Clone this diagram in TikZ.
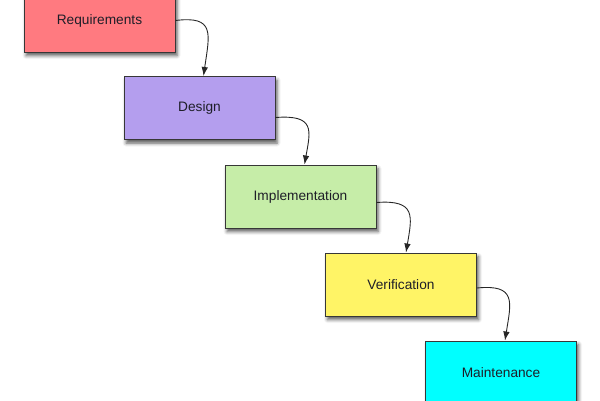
\documentclass[tikz,border=0pt]{standalone}
\usepackage{fontspec}
\setmainfont{Liberation Sans}
\usetikzlibrary{shadows.blur,arrows.meta}
\definecolor{creq}{RGB}{255,122,128}
\definecolor{cdes}{RGB}{180,158,238}
\definecolor{cimp}{RGB}{198,237,168}
\definecolor{cver}{RGB}{255,244,102}
\definecolor{cmai}{RGB}{0,255,255}
\definecolor{cedge}{RGB}{55,55,55}
\definecolor{ctext}{RGB}{30,30,40}
\begin{document}
\begin{tikzpicture}[x=1pt,y=-1pt,
  phase/.style={draw=cedge, line width=1pt, minimum width=151pt, minimum height=63pt,
    inner sep=0pt, text=ctext, font=\fontsize{13.7}{16}\selectfont,
    blur shadow={shadow xshift=2pt, shadow yshift=-3.5pt, shadow blur radius=3.5pt, shadow opacity=65}},
  flow/.style={draw=black!85, line width=0.9pt, -{Latex[length=9pt,width=6.5pt]}}]
\useasboundingbox (0,0) rectangle (600,400);
\node[phase, fill=creq] (req) at (99.5,20.5) {Requirements};
\node[phase, fill=cdes] (des) at (199.5,108) {Design};
\node[phase, fill=cimp] (imp) at (300.5,196.5) {Implementation};
\node[phase, fill=cver] (ver) at (401,284.5) {Verification};
\node[phase, fill=cmai] (mai) at (501,372.5) {Maintenance};
\draw[flow] ([yshift=0pt]req.east) .. controls +(40,-5) and +(6,-42) .. ([xshift=4pt]des.north);
\draw[flow] ([yshift=-9.5pt]des.east) .. controls +(40,-3) and +(6,-34) .. ([xshift=4pt]imp.north);
\draw[flow] ([yshift=-6pt]imp.east) .. controls +(40,-3) and +(6,-36) .. ([xshift=5pt]ver.north);
\draw[flow] ([yshift=-3.5pt]ver.east) .. controls +(40,-4) and +(6,-38) .. ([xshift=4pt]mai.north);
\end{tikzpicture}
\end{document}
